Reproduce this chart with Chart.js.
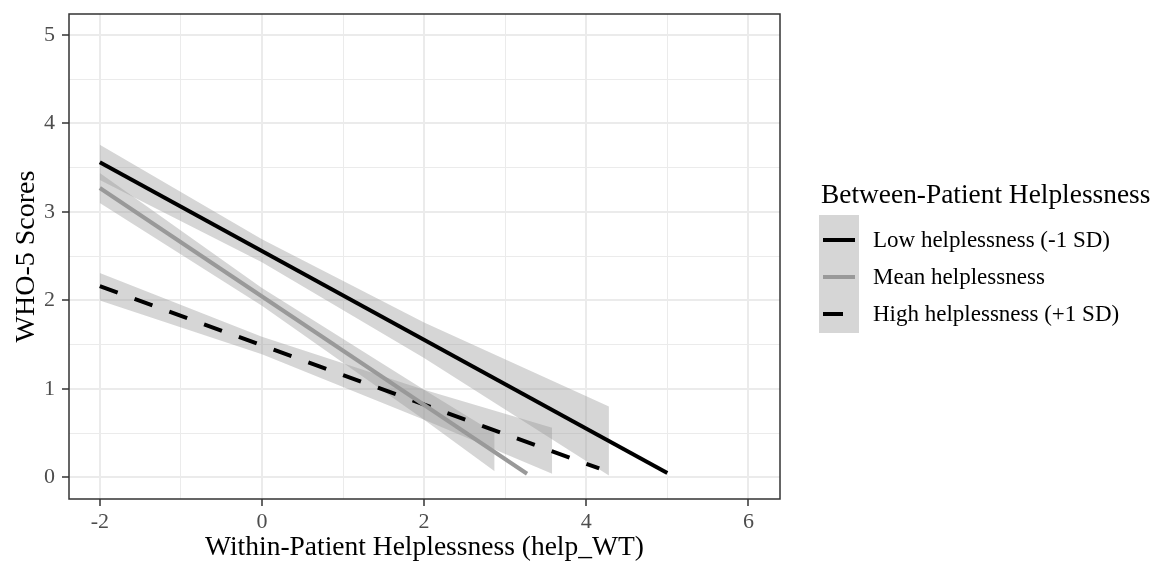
<!DOCTYPE html>
<html>
<head>
<meta charset="utf-8">
<script src="https://cdn.jsdelivr.net/npm/chart.js@4.4.1/dist/chart.umd.min.js"></script>
<style>
  body { margin: 0; background: #fff; }
  #wrap { position: relative; width: 1155px; height: 562px; font-family: "Liberation Serif", "Times New Roman", serif; }
  #chart { position: absolute; left: 0; top: 0; }
  .lg { position: absolute; line-height: 1; white-space: nowrap; color: #000; }
</style>
</head>
<body>
<div id="wrap">
  <canvas id="chart" width="1155" height="562"></canvas>
  <div class="lg" style="left:821px; top:181px; font-size:27.4px;">Between-Patient Helplessness</div>
  <div style="position:absolute; left:819px; top:215px; width:40px; height:118px; background:#d6d6d6;"></div>
  <div style="position:absolute; left:823px; top:238px; width:32px; height:4px; background:#000;"></div>
  <div style="position:absolute; left:823px; top:275px; width:32px; height:4px; background:#999;"></div>
  <div style="position:absolute; left:823px; top:312px; width:20px; height:4px; background:#000;"></div>
  <div class="lg" style="left:873px; top:228px; font-size:23px;">Low helplessness (-1 SD)</div>
  <div class="lg" style="left:873px; top:265px; font-size:23px;">Mean helplessness</div>
  <div class="lg" style="left:873px; top:302px; font-size:23px;">High helplessness (+1 SD)</div>
</div>
<script>
const xTicks = [-2, 0, 2, 4, 6];
const xMinor = [-1, 1, 3, 5];
const yTicks = [0, 1, 2, 3, 4, 5];
const yMinor = [0.5, 1.5, 2.5, 3.5, 4.5];

// fitted lines (start / end)
const lowX = [-2, 5];
const lowY = [3.56, 0.05];
const meanX = [-2, 3.27];
const meanY = [3.27, 0.04];
const highX = [-2, 4.16];
const highY = [2.16, 0.10];

// confidence ribbons
const lowBandX = [-2, 0, 2, 4.28];
const lowUpper = [3.76, 2.69, 1.75, 0.80];
const lowLower = [3.36, 2.43, 1.35, 0.02];
const meanBandX = [-2, 0, 2, 2.87];
const meanUpper = [3.44, 2.14, 0.99, 0.50];
const meanLower = [3.10, 1.94, 0.65, 0.07];
const highBandX = [-2, 0, 2, 3.58];
const highUpper = [2.31, 1.59, 0.99, 0.56];
const highLower = [2.00, 1.39, 0.65, 0.04];

const pts = (xs, ys) => xs.map((x, i) => ({ x: x, y: ys[i] }));

const bandFill = "rgba(153,153,153,0.4)";
const serif = "'Liberation Serif', 'Times New Roman', serif";

function band(xs, up, lo) {
  return [
    { data: pts(xs, up), borderWidth: 0, pointRadius: 0, fill: "+1", backgroundColor: bandFill, order: 2 },
    { data: pts(xs, lo), borderWidth: 0, pointRadius: 0, fill: false, order: 2 },
  ];
}

function line(xs, ys, color, dash) {
  return {
    data: pts(xs, ys),
    borderColor: color,
    borderWidth: 4,
    borderDash: dash || [],
    borderCapStyle: "butt",
    pointRadius: 0,
    fill: false,
    tension: 0,
    order: 1,
  };
}

const plotBorder = {
  id: "plotBorder",
  afterDraw(chart) {
    const { ctx, chartArea: a } = chart;
    ctx.save();
    ctx.strokeStyle = "#333333";
    ctx.lineWidth = 1.5;
    ctx.strokeRect(a.left, a.top, a.right - a.left, a.bottom - a.top);
    ctx.restore();
  },
};

const isMajor = (list, c) => c.tick && list.includes(c.tick.value);

function noPad(s) {
  s.paddingTop = 0;
  s.paddingBottom = 0;
  s.paddingLeft = 0;
  s.paddingRight = 0;
}

new Chart(document.getElementById("chart"), {
  type: "line",
  data: {
    datasets: [
      ...band(lowBandX, lowUpper, lowLower),
      ...band(meanBandX, meanUpper, meanLower),
      ...band(highBandX, highUpper, highLower),
      line(lowX, lowY, "#000000"),
      line(meanX, meanY, "#999999"),
      line(highX, highY, "#000000", [19, 18]),
    ],
  },
  options: {
    responsive: false,
    animation: false,
    devicePixelRatio: 1,
    layout: { padding: { left: 0, top: 14, right: 375, bottom: 0 } },
    plugins: { legend: { display: false }, tooltip: { enabled: false } },
    scales: {
      x: {
        type: "linear",
        min: -2.38,
        max: 6.39,
        afterBuildTicks: (s) => { s.ticks = [...xTicks, ...xMinor].sort((a, b) => a - b).map((v) => ({ value: v })); },
        afterFit: (s) => { s.height = 63; noPad(s); },
        grid: {
          color: "#ebebeb",
          lineWidth: (c) => (isMajor(xTicks, c) ? 2 : 1),
          tickColor: (c) => (isMajor(xTicks, c) ? "#333333" : "rgba(0,0,0,0)"),
          tickWidth: 1.5,
          tickLength: 7,
        },
        border: { display: false },
        ticks: {
          autoSkip: false,
          maxRotation: 0,
          padding: 3,
          color: "#4d4d4d",
          font: { family: serif, size: 22 },
          callback: (v) => (xTicks.includes(v) ? String(v) : ""),
        },
        title: {
          display: true,
          text: "Within-Patient Helplessness (help_WT)",
          color: "#000",
          font: { family: serif, size: 27.5, lineHeight: 1 },
          padding: { top: 0, bottom: 0 },
        },
      },
      y: {
        type: "linear",
        min: -0.245,
        max: 5.237,
        afterBuildTicks: (s) => { s.ticks = [...yTicks, ...yMinor].sort((a, b) => a - b).map((v) => ({ value: v })); },
        afterFit: (s) => { s.width = 69; noPad(s); },
        grid: {
          color: "#ebebeb",
          lineWidth: (c) => (isMajor(yTicks, c) ? 2 : 1),
          tickColor: (c) => (isMajor(yTicks, c) ? "#333333" : "rgba(0,0,0,0)"),
          tickWidth: 1.5,
          tickLength: 7,
        },
        border: { display: false },
        ticks: {
          autoSkip: false,
          padding: 7,
          color: "#4d4d4d",
          font: { family: serif, size: 22 },
          callback: (v) => (yTicks.includes(v) ? String(v) : ""),
        },
        title: {
          display: true,
          text: "WHO-5 Scores",
          color: "#000",
          font: { family: serif, size: 28, lineHeight: 1 },
          padding: { top: 13, bottom: 0 },
        },
      },
    },
  },
  plugins: [plotBorder],
});
</script>
</body>
</html>
